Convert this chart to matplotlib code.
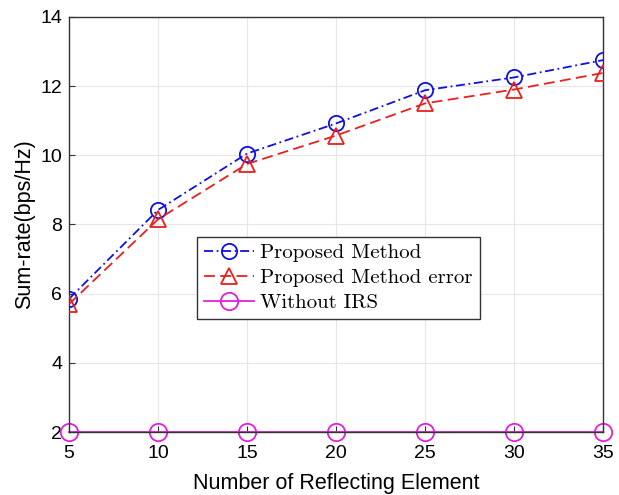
import numpy as np
import matplotlib.pyplot as plt

# number of reflecting elements
n_elements = [5, 10, 15, 20, 25, 30, 35]

# sum-rate (bps/Hz)
rate_proposed = [5.85, 8.42, 10.05, 10.92, 11.88, 12.25, 12.75]
rate_proposed_err = [5.70, 8.15, 9.75, 10.57, 11.50, 11.90, 12.38]
rate_no_irs = [2.0, 2.0, 2.0, 2.0, 2.0, 2.0, 2.0]

plt.rcParams["font.family"] = ["Liberation Sans", "DejaVu Sans"]

fig = plt.figure(figsize=(6.19, 4.95), dpi=100)
ax = fig.add_axes([0.1115, 0.127, 0.863, 0.839])

ax.plot(n_elements, rate_proposed, color="#1010e0", linestyle=(0, (5, 2, 1, 2)), lw=1.3,
        marker="o", markersize=11, markerfacecolor="none", markeredgewidth=1.3,
        label="Proposed Method", zorder=3)
ax.plot(n_elements, rate_proposed_err, color="#e82020", linestyle=(0, (6, 3)), lw=1.3,
        marker="^", markersize=11, markerfacecolor="none", markeredgewidth=1.3,
        label="Proposed Method error", zorder=3)
# sits on the bottom spine, so keep it below the axes frame
ax.plot(n_elements, rate_no_irs, color="#e020e0", linestyle="-", lw=1.3,
        marker="o", markersize=12.5, markerfacecolor="none", markeredgewidth=1.3,
        label="Without IRS", clip_on=False, zorder=2)

ax.set_xlim(5, 35)
ax.set_ylim(2, 14)
ax.set_xticks(n_elements)
ax.set_yticks(np.arange(2, 15, 2))
ax.tick_params(direction="in", labelsize=14, length=4, color="#333333")
ax.tick_params(axis="x", pad=9)
ax.tick_params(axis="y", pad=5)
ax.grid(True, color="#e6e6e6", lw=0.8)
for s in ax.spines.values():
    s.set_color("#333333")
    s.set_linewidth(1.0)
    s.set_zorder(2.5)

ax.set_xlabel("Number of Reflecting Element", fontsize=15.5, labelpad=8)
ax.set_ylabel("Sum-rate(bps/Hz)", fontsize=15.5, labelpad=4)

leg = ax.legend(loc="upper left", bbox_to_anchor=(0.239, 0.471), fancybox=False,
                framealpha=1, edgecolor="#333333", handlelength=2.4,
                handletextpad=0.3, borderpad=0.35, labelspacing=0.3,
                borderaxespad=0, prop={"family": "cmr10", "size": 15})
leg.get_frame().set_linewidth(1.0)

fig.savefig("out.png", dpi=100)
